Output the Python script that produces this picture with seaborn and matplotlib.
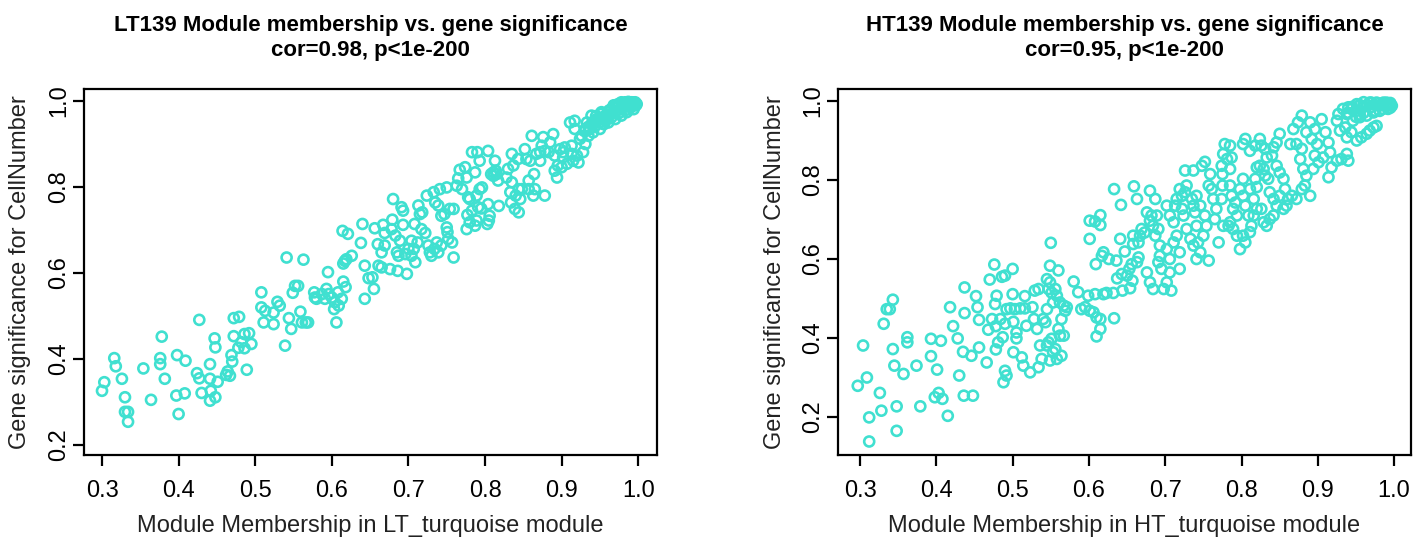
"""
Module membership vs. gene significance scatter plots (LT139 / HT139 turquoise module).
"""

import numpy as np
import pandas as pd
import matplotlib
matplotlib.use("Agg")
import matplotlib.pyplot as plt
import seaborn as sns

# ---- LT139 turquoise module ----
lt_mm = [
    0.303, 0.300, 0.316, 0.318, 0.326, 0.330, 0.330, 0.334, 0.334, 0.354,
    0.364, 0.376, 0.376, 0.378, 0.382, 0.398, 0.397, 0.408, 0.400, 0.409,
    0.427, 0.424, 0.427, 0.430, 0.441, 0.441, 0.442, 0.441, 0.448, 0.447,
    0.448, 0.451, 0.462, 0.464, 0.467, 0.469, 0.470, 0.472, 0.479, 0.472,
    0.478, 0.482, 0.486, 0.486, 0.489, 0.492, 0.495, 0.508, 0.508, 0.513,
    0.511, 0.524, 0.524, 0.529, 0.532, 0.539, 0.541,
    0.547, 0.549, 0.552, 0.556, 0.544, 0.559, 0.561, 0.566, 0.569, 0.563,
    0.577, 0.578, 0.580, 0.587, 0.591, 0.593, 0.595, 0.596, 0.600, 0.603,
    0.604, 0.606, 0.608, 0.609, 0.613, 0.615, 0.618, 0.614, 0.621, 0.615,
    0.617, 0.619, 0.626, 0.638, 0.640, 0.643, 0.643, 0.648, 0.653, 0.655,
    0.656, 0.660, 0.661, 0.665, 0.665, 0.667, 0.669, 0.669, 0.676, 0.680,
    0.679, 0.678, 0.683, 0.685, 0.687, 0.686, 0.689, 0.691, 0.693, 0.693,
    0.698, 0.696, 0.700, 0.704, 0.707, 0.709, 0.708, 0.704, 0.712, 0.713,
    0.715, 0.717, 0.718, 0.722, 0.724, 0.726, 0.728, 0.730, 0.734, 0.737,
    0.739, 0.743, 0.733, 0.735, 0.739, 0.741, 0.743, 0.747, 0.750, 0.751,
    0.752, 0.754, 0.757, 0.759, 0.759, 0.750, 0.763, 0.765, 0.767, 0.770,
    0.774, 0.776, 0.777, 0.776, 0.778, 0.780, 0.783, 0.780, 0.783,
    0.787, 0.789, 0.791, 0.793, 0.796, 0.795, 0.787, 0.790, 0.793, 0.789,
    0.803, 0.805, 0.806, 0.804, 0.804, 0.813, 0.811, 0.808, 0.814, 0.811,
    0.815, 0.817, 0.818, 0.828, 0.830, 0.833, 0.834, 0.835, 0.835, 0.837,
    0.839, 0.840, 0.843, 0.844, 0.844, 0.846, 0.848, 0.852, 0.854, 0.857,
    0.857, 0.859, 0.861, 0.863, 0.864, 0.865, 0.867, 0.872, 0.874, 0.878,
    0.876, 0.878, 0.885, 0.889, 0.891, 0.894, 0.895, 0.898, 0.900, 0.904,
    0.902, 0.907, 0.911, 0.913, 0.917, 0.915, 0.920, 0.922, 0.917, 0.926,
    0.928, 0.931, 0.933, 0.935, 0.939, 0.941, 0.946, 0.950, 0.952, 0.957,
    0.961, 0.965, 0.970, 0.974, 0.978, 0.983, 0.987, 0.991, 0.996, 0.998,
    0.994, 0.985, 0.978, 0.970, 0.961, 0.955, 0.944, 0.937, 0.931, 0.924,
    0.913, 0.902, 0.891, 0.883, 0.872,
    0.945, 0.950, 0.955, 0.960, 0.965, 0.970, 0.975, 0.980, 0.985, 0.990,
    0.993, 0.996, 0.997, 0.990, 0.985, 0.975, 0.965, 0.958, 0.950, 0.980,
    0.972, 0.962, 0.952, 0.945, 0.935, 0.940, 0.930, 0.992, 0.988, 0.968,
]
lt_gs = [
    0.346, 0.326, 0.402, 0.383, 0.354, 0.311, 0.277, 0.277, 0.254, 0.378,
    0.305, 0.402, 0.388, 0.452, 0.354, 0.409, 0.315, 0.320, 0.272, 0.396,
    0.491, 0.367, 0.355, 0.321, 0.388, 0.354, 0.326, 0.303, 0.311, 0.448,
    0.427, 0.347, 0.363, 0.371, 0.361, 0.409, 0.394, 0.495, 0.498, 0.453,
    0.426, 0.439, 0.458, 0.425, 0.375, 0.460, 0.435, 0.555, 0.520, 0.512,
    0.485, 0.508, 0.481, 0.533, 0.524, 0.431, 0.636,
    0.470, 0.554, 0.570, 0.570, 0.495, 0.510, 0.485, 0.485, 0.485, 0.631,
    0.555, 0.543, 0.540, 0.551, 0.540, 0.563, 0.602, 0.551, 0.543, 0.516,
    0.532, 0.485, 0.555, 0.524, 0.540, 0.580, 0.567, 0.698, 0.691, 0.622,
    0.628, 0.632, 0.640, 0.670, 0.714, 0.617, 0.540, 0.588, 0.590, 0.563,
    0.704, 0.667, 0.617, 0.613, 0.648, 0.712, 0.693, 0.664, 0.609, 0.772,
    0.724, 0.702, 0.687, 0.648, 0.640, 0.605, 0.675, 0.753, 0.745, 0.712,
    0.598, 0.644, 0.656, 0.640, 0.656, 0.625, 0.714, 0.675, 0.671, 0.757,
    0.737, 0.702, 0.741, 0.693, 0.780, 0.664, 0.648, 0.640, 0.656, 0.671,
    0.648, 0.664, 0.788, 0.764, 0.757, 0.795, 0.733, 0.737, 0.706, 0.695,
    0.679, 0.749, 0.671, 0.636, 0.749, 0.799, 0.803, 0.820, 0.840, 0.795,
    0.846, 0.822, 0.735, 0.702, 0.776, 0.772, 0.881, 0.718, 0.745,
    0.710, 0.722, 0.753, 0.795, 0.799, 0.750, 0.834, 0.881, 0.861, 0.780,
    0.714, 0.722, 0.733, 0.760, 0.884, 0.861, 0.834, 0.830, 0.838, 0.826,
    0.830, 0.815, 0.756, 0.822, 0.842, 0.788, 0.764, 0.877, 0.811, 0.850,
    0.749, 0.780, 0.865, 0.795, 0.741, 0.772, 0.795, 0.888, 0.865, 0.795,
    0.815, 0.861, 0.919, 0.780, 0.830, 0.795, 0.877, 0.861, 0.896, 0.780,
    0.916, 0.884, 0.904, 0.923, 0.838, 0.822, 0.850, 0.888, 0.846, 0.892,
    0.869, 0.854, 0.950, 0.877, 0.935, 0.861, 0.873, 0.857, 0.954, 0.919,
    0.881, 0.900, 0.950, 0.919, 0.966, 0.927, 0.958, 0.935, 0.974, 0.966,
    0.974, 0.981, 0.989, 0.993, 0.997, 0.997, 0.998, 0.997, 0.993, 0.993,
    0.981, 0.974, 0.966, 0.958, 0.950, 0.946, 0.942, 0.935, 0.935, 0.912,
    0.896, 0.881, 0.873, 0.881, 0.881,
    0.955, 0.960, 0.958, 0.965, 0.970, 0.975, 0.980, 0.985, 0.990, 0.993,
    0.996, 0.997, 0.990, 0.985, 0.980, 0.972, 0.962, 0.955, 0.950, 0.992,
    0.985, 0.978, 0.970, 0.965, 0.940, 0.950, 0.930, 0.997, 0.995, 0.990,
]

# ---- HT139 turquoise module ----
ht_mm = [
    0.297, 0.309, 0.304, 0.312, 0.312, 0.326, 0.328, 0.348, 0.348, 0.331,
    0.335, 0.339, 0.343, 0.343, 0.345, 0.357, 0.362, 0.362, 0.374, 0.379,
    0.393, 0.393, 0.406, 0.401, 0.398, 0.403, 0.408, 0.415, 0.418, 0.422,
    0.428, 0.430, 0.435, 0.436, 0.448, 0.437, 0.437, 0.446, 0.452, 0.454,
    0.456, 0.456, 0.466, 0.468, 0.470, 0.476, 0.473, 0.477, 0.479, 0.478,
    0.478, 0.481, 0.484, 0.486, 0.487, 0.490, 0.490, 0.488, 0.490, 0.492,
    0.500, 0.500, 0.492, 0.497, 0.501, 0.503, 0.505, 0.505, 0.501, 0.510,
    0.512, 0.514, 0.516, 0.516, 0.518, 0.523, 0.526, 0.528, 0.529, 0.534,
    0.536, 0.534, 0.532,
    0.538, 0.543, 0.545, 0.547, 0.549, 0.551, 0.553, 0.556, 0.558, 0.564,
    0.562, 0.560, 0.567, 0.564, 0.569, 0.567, 0.562, 0.558, 0.556, 0.551,
    0.549, 0.547, 0.545, 0.549, 0.560, 0.550, 0.553, 0.545, 0.540, 0.571,
    0.580, 0.586, 0.590, 0.595, 0.599, 0.601, 0.606, 0.608, 0.610, 0.615,
    0.615, 0.610, 0.619, 0.623, 0.632, 0.633, 0.644, 0.654, 0.609, 0.617,
    0.619, 0.626, 0.636, 0.601, 0.601, 0.608, 0.615, 0.615, 0.641, 0.647,
    0.633, 0.642, 0.659, 0.663, 0.637, 0.643, 0.650, 0.653, 0.656, 0.657,
    0.663, 0.665, 0.658, 0.658, 0.665, 0.667, 0.669, 0.673, 0.680, 0.687,
    0.676, 0.682, 0.680, 0.684, 0.687, 0.689, 0.691, 0.693, 0.676, 0.680,
    0.684, 0.693, 0.695, 0.691, 0.698, 0.702, 0.708, 0.706, 0.702, 0.706,
    0.711, 0.715, 0.719, 0.719, 0.728, 0.724, 0.722, 0.711, 0.706, 0.702,
    0.713, 0.715, 0.719, 0.722, 0.726, 0.728, 0.735, 0.737, 0.739, 0.741,
    0.733, 0.737, 0.743, 0.746, 0.757, 0.741, 0.750, 0.754, 0.752, 0.746,
    0.741, 0.726, 0.737, 0.748, 0.752, 0.759, 0.757, 0.761, 0.763, 0.767,
    0.765, 0.770, 0.774, 0.775, 0.775, 0.774, 0.776, 0.778, 0.781, 0.783,
    0.776,
    0.785, 0.787, 0.785, 0.785, 0.787, 0.792, 0.789, 0.794, 0.785, 0.789,
    0.794, 0.802, 0.805, 0.798, 0.811, 0.813, 0.809, 0.805, 0.802, 0.798,
    0.802, 0.811, 0.816, 0.818, 0.820, 0.816, 0.820, 0.826, 0.829, 0.833,
    0.837, 0.842, 0.846, 0.842, 0.837, 0.835, 0.831, 0.829, 0.824, 0.820,
    0.833, 0.840, 0.842, 0.846, 0.850, 0.846, 0.850, 0.855, 0.857, 0.861,
    0.859, 0.855, 0.850, 0.866, 0.872, 0.879, 0.883, 0.890, 0.885, 0.881,
    0.877, 0.879, 0.872, 0.864, 0.802, 0.805, 0.811, 0.818, 0.824, 0.826,
    0.831, 0.868, 0.874, 0.879, 0.885, 0.890, 0.892, 0.896, 0.899, 0.905,
    0.910, 0.914, 0.916, 0.907, 0.901, 0.894, 0.896, 0.914, 0.918, 0.925,
    0.931, 0.938, 0.940, 0.925, 0.927, 0.929, 0.936, 0.938, 0.944, 0.951,
    0.957, 0.964, 0.968, 0.973, 0.977, 0.938, 0.944, 0.951, 0.960, 0.968,
    0.977, 0.986, 0.995, 0.997, 0.992, 0.981, 0.973, 0.964, 0.955, 0.946,
    0.940, 0.933,
    0.940, 0.945, 0.950, 0.955, 0.960, 0.965, 0.970, 0.975, 0.980, 0.985,
    0.990, 0.995, 0.985, 0.975, 0.960, 0.950, 0.995, 0.990, 0.970, 0.955,
]
ht_gs = [
    0.279, 0.300, 0.381, 0.199, 0.138, 0.261, 0.216, 0.227, 0.165, 0.436,
    0.473, 0.473, 0.497, 0.372, 0.330, 0.309, 0.402, 0.389, 0.330, 0.227,
    0.398, 0.354, 0.393, 0.320, 0.250, 0.261, 0.246, 0.203, 0.478, 0.430,
    0.399, 0.305, 0.365, 0.254, 0.254, 0.528, 0.463, 0.355, 0.506, 0.478,
    0.446, 0.376, 0.338, 0.421, 0.548, 0.586, 0.448, 0.486, 0.507, 0.430,
    0.371, 0.389, 0.448, 0.555, 0.402, 0.558, 0.436, 0.288, 0.317, 0.305,
    0.575, 0.511, 0.473, 0.475, 0.441, 0.473, 0.414, 0.399, 0.364, 0.475,
    0.351, 0.330, 0.506, 0.475, 0.431, 0.313, 0.478, 0.448, 0.520, 0.524,
    0.381, 0.326, 0.423,
    0.347, 0.440, 0.381, 0.389, 0.343, 0.398, 0.364, 0.372, 0.347, 0.355,
    0.406, 0.423, 0.406, 0.448, 0.469, 0.482, 0.490, 0.507, 0.524, 0.515,
    0.541, 0.524, 0.549, 0.583, 0.571, 0.641, 0.490, 0.473, 0.448, 0.478,
    0.543, 0.516, 0.473, 0.478, 0.507, 0.469, 0.465, 0.511, 0.452, 0.448,
    0.423, 0.404, 0.511, 0.514, 0.514, 0.450, 0.520, 0.526, 0.587, 0.608,
    0.617, 0.600, 0.596, 0.651, 0.697, 0.695, 0.711, 0.686, 0.651, 0.619,
    0.777, 0.737, 0.784, 0.752, 0.551, 0.562, 0.558, 0.575, 0.587, 0.545,
    0.592, 0.604, 0.659, 0.638, 0.642, 0.659, 0.676, 0.667, 0.773, 0.752,
    0.718, 0.710, 0.697, 0.684, 0.659, 0.710, 0.676, 0.634, 0.566, 0.541,
    0.524, 0.608, 0.575, 0.592, 0.524, 0.541, 0.520, 0.566, 0.625, 0.600,
    0.642, 0.659, 0.575, 0.617, 0.676, 0.710, 0.727, 0.693, 0.710, 0.735,
    0.735, 0.752, 0.777, 0.760, 0.769, 0.786, 0.752, 0.735, 0.718, 0.684,
    0.651, 0.634, 0.642, 0.617, 0.596, 0.600, 0.659, 0.684, 0.710, 0.735,
    0.760, 0.824, 0.824, 0.836, 0.846, 0.815, 0.786, 0.777, 0.752, 0.727,
    0.701, 0.642, 0.752, 0.786, 0.815, 0.836, 0.866, 0.891, 0.853, 0.684,
    0.684,
    0.887, 0.857, 0.828, 0.786, 0.760, 0.743, 0.727, 0.710, 0.693, 0.676,
    0.659, 0.659, 0.642, 0.625, 0.668, 0.684, 0.710, 0.735, 0.760, 0.777,
    0.803, 0.777, 0.752, 0.803, 0.782, 0.710, 0.727, 0.727, 0.693, 0.684,
    0.701, 0.710, 0.735, 0.752, 0.769, 0.803, 0.811, 0.828, 0.836, 0.832,
    0.857, 0.862, 0.883, 0.895, 0.917, 0.836, 0.819, 0.803, 0.777, 0.752,
    0.735, 0.727, 0.760, 0.760, 0.752, 0.777, 0.786, 0.760, 0.811, 0.828,
    0.853, 0.879, 0.891, 0.891, 0.891, 0.904, 0.874, 0.887, 0.904, 0.887,
    0.879, 0.929, 0.946, 0.963, 0.921, 0.946, 0.904, 0.929, 0.891, 0.954,
    0.921, 0.895, 0.870, 0.857, 0.845, 0.828, 0.862, 0.807, 0.832, 0.849,
    0.853, 0.866, 0.849, 0.950, 0.967, 0.925, 0.933, 0.908, 0.921, 0.900,
    0.908, 0.917, 0.925, 0.933, 0.937, 0.967, 0.980, 0.992, 0.997, 0.996,
    0.996, 0.996, 0.995, 0.988, 0.980, 0.975, 0.971, 0.963, 0.959, 0.950,
    0.984, 0.980,
    0.970, 0.985, 0.975, 0.990, 0.985, 0.990, 0.985, 0.990, 0.988, 0.990,
    0.990, 0.990, 0.980, 0.975, 0.970, 0.960, 0.983, 0.996, 0.996, 0.965,
]

lt_title = "LT139 Module membership vs. gene significance\ncor=0.98, p<1e-200"
ht_title = "HT139 Module membership vs. gene significance\ncor=0.95, p<1e-200"
lt_xlabel = "Module Membership in LT_turquoise module"
ht_xlabel = "Module Membership in HT_turquoise module"
ylabel = "Gene significance for CellNumber"
x_ticks = [0.3, 0.4, 0.5, 0.6, 0.7, 0.8, 0.9, 1.0]
y_ticks = [0.2, 0.4, 0.6, 0.8, 1.0]

TURQ = "#40E0D0"

sns.set_style("white")
plt.rcParams["font.family"] = ["Liberation Sans", "DejaVu Sans"]
plt.rcParams["text.color"] = "black"
plt.rcParams["axes.labelcolor"] = "#222222"


def draw_panel(ax, mm, gs, title, xlabel, xlim, ylim):
    df = pd.DataFrame({"mm": mm, "gs": gs})
    sns.scatterplot(data=df, x="mm", y="gs", ax=ax, marker="o", s=52,
                    facecolor="none", edgecolor=TURQ, linewidth=1.9)
    ax.set_xlim(*xlim)
    ax.set_ylim(*ylim)
    ax.set_xticks(x_ticks)
    ax.set_xticklabels([f"{t:.1f}" for t in x_ticks])
    ax.set_yticks(y_ticks)
    ax.set_yticklabels([f"{t:.1f}" for t in y_ticks], rotation=90, va="center")
    ax.tick_params(direction="out", length=8, width=1.6, labelsize=17,
                   colors="black", left=True, bottom=True)
    ax.tick_params(axis="x", pad=10)
    ax.tick_params(axis="y", pad=2)
    for sp in ax.spines.values():
        sp.set_visible(True)
        sp.set_color("black")
        sp.set_linewidth(1.6)
    ax.set_xlabel(xlabel, fontsize=17, labelpad=9)
    ax.set_ylabel(ylabel, fontsize=17, labelpad=12)
    ax.set_title(title, fontsize=16, fontweight="bold", pad=24, linespacing=1.2)


fig = plt.figure(figsize=(14.19, 5.44), dpi=100)
ax1 = fig.add_axes([0.0592, 0.1636, 0.4038, 0.6728])
ax2 = fig.add_axes([0.5906, 0.1636, 0.4038, 0.6728])

draw_panel(ax1, lt_mm, lt_gs, lt_title, lt_xlabel, (0.2765, 1.0245), (0.1767, 1.0279))
draw_panel(ax2, ht_mm, ht_gs, ht_title, ht_xlabel, (0.2712, 1.0222), (0.1038, 1.0304))

fig.savefig("out.png", dpi=100)
